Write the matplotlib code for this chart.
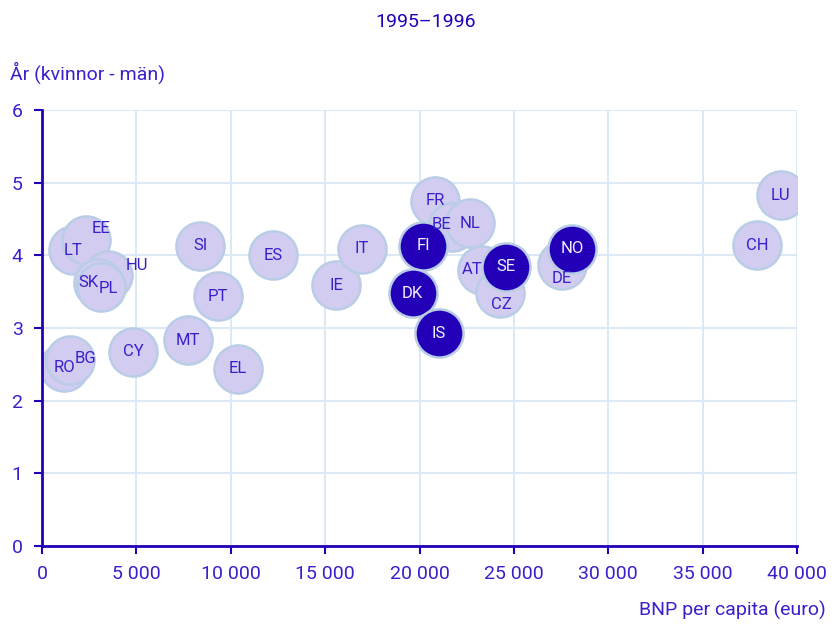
import matplotlib.pyplot as plt

plt.rcParams['font.family'] = ['Roboto', 'DejaVu Sans']

# BNP per capita (euro) and life-expectancy gap, 1995-1996
countries = ["RO", "BG", "LT", "EE", "HU", "SK", "PL", "CY", "MT", "SI", "PT", "EL",
             "ES", "IE", "IT", "FR", "BE", "NL", "AT", "CZ", "DE", "CH", "LU"]
gdp = [1170, 1480, 1640, 2330, 3500, 2970, 3130, 4820, 7730, 8370, 9320, 10380,
       12240, 15580, 16950, 20820, 21700, 22680, 23300, 24260, 27550, 37880, 39150]
gap = [2.46, 2.56, 4.07, 4.21, 3.73, 3.62, 3.56, 2.67, 2.83, 4.13, 3.44, 2.44,
       4.00, 3.59, 4.09, 4.75, 4.39, 4.44, 3.80, 3.48, 3.87, 4.14, 4.83]

nordic = ["FI", "DK", "IS", "SE", "NO"]
nordic_gdp = [20190, 19630, 21030, 24600, 28080]
nordic_gap = [4.13, 3.48, 2.93, 3.84, 4.09]

# label shifts in points for crowded bubbles
shift = {"EE": (11, 8), "HU": (21, 7), "BG": (11, 1), "SK": (-7, 0), "PL": (5, -1),
         "BE": (-7, 2), "AT": (-7, 0), "CZ": (1, -8), "DE": (0, -10)}

dark = "#2300b8"
txt = "#3a20cc"
light = "#d2ccf0"
edge = "#b9cde6"
grid = "#dde8f5"

fig = plt.figure(figsize=(8.34, 6.25), dpi=100)
ax = fig.add_axes([0.0504, 0.1264, 0.9052, 0.6976])

ax.scatter(gdp, gap, s=1200, color=light, edgecolor=edge, linewidth=1.8, zorder=3)
ax.scatter(nordic_gdp, nordic_gap, s=1200, color=dark, edgecolor=edge, linewidth=1.8, zorder=4)

for c, x, y in zip(countries, gdp, gap):
    dx, dy = shift.get(c, (0, 0))
    ax.annotate(c, (x, y), xytext=(dx, dy), textcoords='offset points',
                ha='center', va='center', fontsize=12, color=txt, zorder=6)
for c, x, y in zip(nordic, nordic_gdp, nordic_gap):
    ax.annotate(c, (x, y), ha='center', va='center', fontsize=12,
                color='#f0f0ff', zorder=6)

ax.set_xlim(0, 40000)
ax.set_ylim(0, 6)
ax.set_xticks(range(0, 40001, 5000))
ax.set_xticklabels(["0" if v == 0 else f"{v // 1000} 000" for v in range(0, 40001, 5000)])
ax.set_yticks(range(0, 7))

ax.grid(True, color=grid, linewidth=1.5, zorder=0)
ax.set_axisbelow(True)
for s in ["top", "right"]:
    ax.spines[s].set_visible(False)
for s in ["left", "bottom"]:
    ax.spines[s].set_color(dark)
    ax.spines[s].set_linewidth(2)
    ax.spines[s].set_zorder(5)
ax.tick_params(colors=dark, labelcolor=txt, labelsize=14, length=6, width=1.5, pad=8)

fig.text(0.51, 0.965, "1995\u20131996", ha='center', va='center', fontsize=14, color=dark)
fig.text(0.012, 0.883, "År (kvinnor - män)", ha='left', va='center', fontsize=14, color=txt)
fig.text(0.99, 0.024, "BNP per capita (euro)", ha='right', va='center', fontsize=14, color=txt)

fig.savefig("out.png", dpi=100)
